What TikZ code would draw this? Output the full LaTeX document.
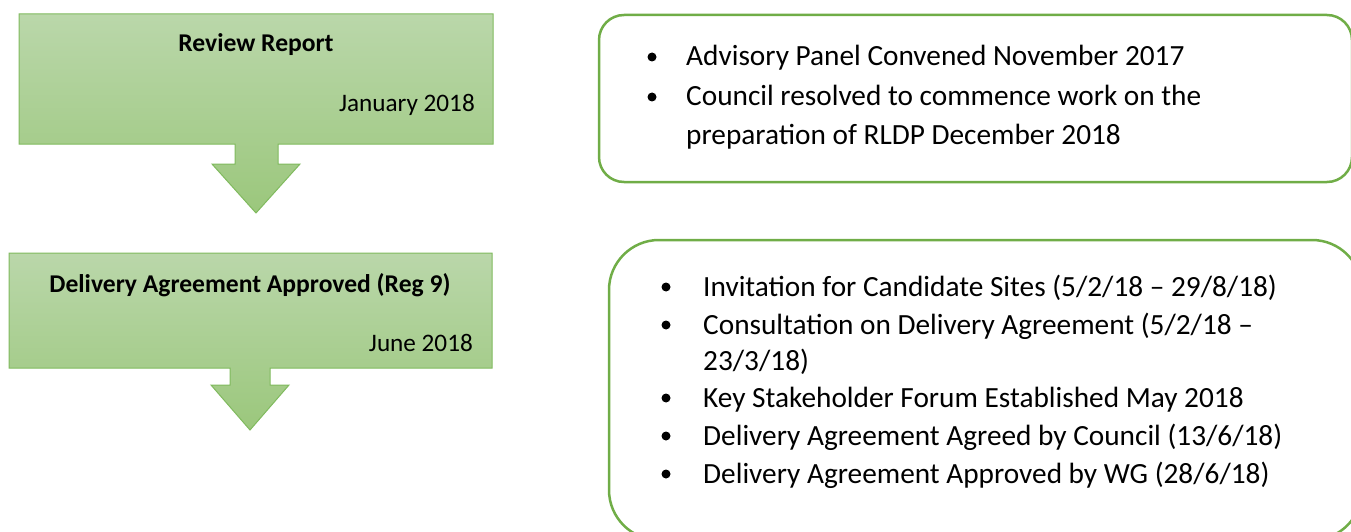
\documentclass[tikz,border=0pt]{standalone}
\usepackage{fontspec}
\setmainfont{Carlito}
\definecolor{gtop}{RGB}{186,215,170}
\definecolor{gbot}{RGB}{155,199,124}
\definecolor{gline}{RGB}{128,186,94}
\definecolor{bline}{RGB}{112,173,71}
\begin{document}
\begin{tikzpicture}[x=1pt,y=-1pt,
  stage/.style={draw=gline, line width=1pt, top color=gtop, bottom color=gbot},
  panel/.style={draw=bline, line width=2.5pt, rounded corners=#1},
  title/.style={font=\fontsize{25.6}{30}\selectfont\bfseries, inner sep=0, anchor=base},
  date/.style={font=\fontsize{25.2}{30}\selectfont, inner sep=0, anchor=base east},
  item/.style={font=\fontsize{29.3}{34}\selectfont, inner sep=0, anchor=base west},
  dot/.style={circle, fill=black, inner sep=0, minimum size=9pt}]
\useasboundingbox (0,0) rectangle (1351,532);
% stage 1
\path[stage] (19,14) -- (493,14) -- (493,144) -- (278,144) -- (278,164) -- (300,164)
  -- (256,213) -- (212,164) -- (235,164) -- (235,144) -- (19,144) -- cycle;
\node[title] (rr) at (256,52) {Review Report};
\node[date] (jan) at (475,112) {January 2018};
% stage 2
\path[stage] (9,253) -- (492,253) -- (492,368) -- (270,368) -- (270,385) -- (289,385)
  -- (250,430) -- (211,385) -- (230,385) -- (230,368) -- (9,368) -- cycle;
\node[title] (da) at (250,292) {Delivery Agreement Approved (Reg 9)};
\node[date] (jun) at (473,351) {June 2018};
% panel 1
\draw[panel=25pt] (599,15) rectangle (1352,182);
\node[dot] (d1) at (652,57) {};
\node[item] (a1) at (686,66) {Advisory Panel Convened November 2017};
\node[dot] (d2) at (652,97) {};
\node[item] (a2) at (686,106) {Council resolved to commence work on the};
\node[item] (a3) at (686,144) {preparation of RLDP December 2018};
% panel 2
\draw[panel=50pt] (609,240) rectangle (1362,540);
\node[dot] (e1) at (666,287) {};
\node[item] (b1) at (703,296) {Invitation for Candidate Sites (5/2/18 -- 29/8/18)};
\node[dot] (e2) at (666,325) {};
\node[item] (b2) at (703,334) {Consultation on Delivery Agreement (5/2/18 --};
\node[item] (b3) at (703,370) {23/3/18)};
\node[dot] (e3) at (666,398) {};
\node[item] (b4) at (703,407) {Key Stakeholder Forum Established May 2018};
\node[dot] (e4) at (666,436) {};
\node[item] (b5) at (703,445) {Delivery Agreement Agreed by Council (13/6/18)};
\node[dot] (e5) at (666,474) {};
\node[item] (b6) at (703,483) {Delivery Agreement Approved by WG (28/6/18)};
\end{tikzpicture}
\end{document}
